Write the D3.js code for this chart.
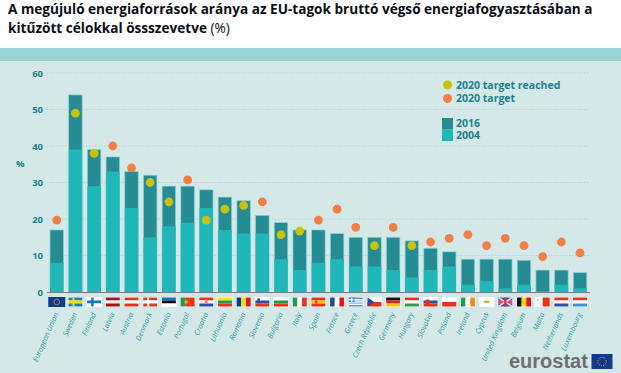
<!DOCTYPE html>
<html>
<head>
<meta charset="utf-8">
<script src="https://cdn.jsdelivr.net/npm/d3@7"></script>
<style>
  html, body { margin: 0; padding: 0; background: #fff; }
  svg { display: block; }
</style>
</head>
<body>
<div id="chart"></div>
<script>
const countries = ["European Union", "Sweden", "Finland", "Latvia", "Austria", "Denmark", "Estonia", "Portugal", "Croatia", "Lithuania", "Romania", "Slovenia", "Bulgaria", "Italy", "Spain", "France", "Greece", "Czech Republic", "Germany", "Hungary", "Slovakia", "Poland", "Ireland", "Cyprus", "United Kingdom", "Belgium", "Malta", "Netherlands", "Luxembourg"]
const values2016 = [17, 54, 39, 37, 33, 32, 29, 29, 28, 26, 25, 21, 19, 17, 17, 16, 15, 15, 15, 14, 12, 11, 9, 9, 9, 8.7, 6, 6, 5.3]
const values2004 = [8, 39, 29, 33, 23, 15, 18, 19, 23, 17, 16, 16, 9, 6, 8, 9, 7, 7, 6, 4, 6, 7, 2, 3, 1, 2, 0.1, 2, 1]
const targets = [19.7, 49, 38, 40, 34, 30, 24.7, 30.7, 19.7, 22.7, 23.7, 24.7, 15.7, 16.7, 19.7, 22.7, 17.7, 12.7, 17.7, 12.7, 13.7, 14.7, 15.7, 12.7, 14.7, 12.7, 9.7, 13.7, 10.7]
const reached = [0, 1, 1, 0, 0, 1, 1, 0, 1, 1, 1, 0, 1, 1, 0, 0, 0, 1, 0, 1, 0, 0, 0, 0, 0, 0, 0, 0, 0]
const yTicks = [0, 10, 20, 30, 40, 50, 60]

// flag stripes, "h" = top to bottom, "v" = left to right
const flagDirs = ["h", "h", "h", "h", "h", "h", "h", "v", "h", "h", "v", "h", "h", "v", "h", "v", "h", "h", "h", "h", "h", "h", "v", "h", "h", "v", "v", "h", "h"]
const flagColors = [
  ["#123a8c"], ["#1f7fc4", "#f5d90f", "#1f7fc4"], ["#fff", "#1477c8", "#fff"], ["#a5121c", "#f4eeee", "#a5121c"],
  ["#e8321c", "#fff", "#e8321c"], ["#e2352a", "#fff", "#e2352a"], ["#1a6fb0", "#111", "#fff"], ["#1f9a50", "#e8321c", "#e8321c"],
  ["#e8321c", "#fff", "#2a4ea0"], ["#f5e313", "#1f9a50", "#e8321c"], ["#123a8c", "#f5d90f", "#e8121c"], ["#fff", "#2a4ea0", "#e8321c"],
  ["#fff", "#1f9a50", "#e8321c"], ["#1f9a50", "#fff", "#e8321c"], ["#e8321c", "#f5c40f", "#e8321c"], ["#1f4ea0", "#fff", "#e8121c"],
  ["#5b93cf", "#cfe0ef", "#5b93cf"], ["#fff", "#e8321c"], ["#111", "#e2211c", "#f5c40f"], ["#e8321c", "#fff", "#2f9a50"],
  ["#fff", "#2a4ea0", "#e8321c"], ["#fff", "#e8321c"], ["#1f9a50", "#fff", "#f58a1f"], ["#fff"],
  ["#3a4f9c", "#d8415a", "#3a4f9c"], ["#111", "#f5d90f", "#e8121c"], ["#fff", "#e8321c"], ["#e8321c", "#fff", "#2a4ea0"],
  ["#e8321c", "#fff", "#3a93dc"]
]

const width = 621
const height = 373
const col2016 = "#258b94"
const col2004 = "#20b7b9"
const colReached = "#c8c30a"
const colTarget = "#f27f45"
const teal = "#1c7f8c"
const font = "'Open Sans', sans-serif"

const svg = d3.select("#chart").append("svg")
  .attr("width", width)
  .attr("height", height)

svg.append("rect").attr("y", 61).attr("width", width).attr("height", height - 61).attr("fill", "#d4e9e7")
svg.append("rect").attr("y", 48).attr("width", width).attr("height", 13).attr("fill", "#9bd2d2")

// title
const title = svg.append("text")
  .attr("font-family", "'Open Sans', sans-serif")
  .attr("font-size", 13.6)
  .attr("fill", "#0b0f14")
title.append("tspan").attr("x", 8).attr("y", 14).attr("font-weight", 700)
  .text("A megújuló energiaforrások aránya az EU-tagok bruttó végső energiafogyasztásában a")
title.append("tspan").attr("x", 8).attr("y", 33).attr("font-weight", 700).text("kitűzött célokkal össszevetve ")
title.append("tspan").text("(%)")

const x = d3.scaleBand()
  .domain(countries)
  .range([47.4, 589.4])
  .paddingInner(0.28)
  .paddingOuter(0.14)

const y = d3.scaleLinear().domain([0, 60]).range([292, 73])

// grid
svg.append("g").selectAll("line")
  .data(yTicks.slice(1))
  .join("line")
    .attr("x1", 47)
    .attr("x2", 590)
    .attr("y1", d => y(d))
    .attr("y2", d => y(d))
    .attr("stroke", "#b7cfe0")
    .attr("stroke-dasharray", "1.5 1.5")

const yAxis = d3.axisLeft(y).tickValues(yTicks).tickSize(0).tickPadding(0)
const yG = svg.append("g").attr("transform", "translate(43,0)").call(yAxis)
yG.select(".domain").remove()
yG.selectAll("text")
  .attr("font-family", font)
  .attr("font-size", 9.5)
  .attr("font-weight", 700)
  .attr("fill", teal)

svg.append("text").attr("x", 16).attr("y", 167)
  .attr("font-family", font).attr("font-size", 9.5).attr("font-weight", 700)
  .attr("fill", teal)
  .text("%")

// bars
const bars = svg.append("g")
bars.selectAll(".b16")
  .data(countries)
  .join("rect")
    .attr("class", "b16")
    .attr("x", d => x(d))
    .attr("width", x.bandwidth())
    .attr("y", (d, i) => y(values2016[i]))
    .attr("height", (d, i) => y(0) - y(values2016[i]))
    .attr("fill", col2016)
    .attr("stroke", "#8fd0cf")
    .attr("stroke-width", 0.7)
bars.selectAll(".b04")
  .data(countries)
  .join("rect")
    .attr("class", "b04")
    .attr("x", d => x(d))
    .attr("width", x.bandwidth())
    .attr("y", (d, i) => y(values2004[i]))
    .attr("height", (d, i) => y(0) - y(values2004[i]))
    .attr("fill", col2004)

svg.append("line")
  .attr("x1", 47).attr("x2", 590)
  .attr("y1", 292.5).attr("y2", 292.5)
  .attr("stroke", "#6f7f80")
  .attr("stroke-width", 1)

// target dots
svg.append("g").selectAll("circle")
  .data(countries)
  .join("circle")
    .attr("cx", d => x(d) + x.bandwidth() / 2)
    .attr("cy", (d, i) => y(targets[i]))
    .attr("r", 4.4)
    .attr("fill", (d, i) => reached[i] ? colReached : colTarget)

// flags
const flagW = 14
const flagH = 9
const flag = svg.append("g").selectAll("g")
  .data(countries)
  .join("g")
    .attr("transform", d => `translate(${x(d) + x.bandwidth() / 2 - flagW / 2},297.5)`)

flag.append("rect")
  .attr("x", -0.5).attr("y", -0.5)
  .attr("width", flagW + 1).attr("height", flagH + 1)
  .attr("fill", "#fff")

flag.each(function (d, i) {
  const g = d3.select(this)
  const cols = flagColors[i]
  const dir = flagDirs[i]
  const band = d3.scaleBand().domain(d3.range(cols.length)).range([0, dir === "h" ? flagH : flagW])
  g.selectAll(".st")
    .data(cols)
    .join("rect")
      .attr("class", "st")
      .attr("x", (c, j) => dir === "v" ? band(j) : 0)
      .attr("y", (c, j) => dir === "h" ? band(j) : 0)
      .attr("width", dir === "v" ? band.bandwidth() : flagW)
      .attr("height", dir === "h" ? band.bandwidth() : flagH)
      .attr("fill", c => c)
})

// few flag details on top of the stripes
function detail(name, fn) {
  fn(flag.filter(d => d === name))
}
detail("European Union", g => {
  g.append("rect").attr("x", -1.5).attr("y", -0.5).attr("width", flagW + 3).attr("height", flagH + 1).attr("fill", "#123a8c")
  g.append("circle").attr("cx", 7).attr("cy", 4.5).attr("r", 2.8)
    .attr("fill", "none").attr("stroke", "#b3a83a").attr("stroke-width", 0.8)
})
detail("Sweden", g => g.append("rect").attr("x", 4).attr("width", 2).attr("height", flagH).attr("fill", "#f5d90f"))
detail("Finland", g => g.append("rect").attr("x", 4).attr("width", 2.5).attr("height", flagH).attr("fill", "#1477c8"))
detail("Denmark", g => g.append("rect").attr("x", 4).attr("width", 2).attr("height", flagH).attr("fill", "#fff"))
detail("Portugal", g => g.append("circle").attr("cx", 5.6).attr("cy", 4.5).attr("r", 1.8).attr("fill", "#e0b020"))
detail("Croatia", g => g.append("rect").attr("x", 5.5).attr("y", 2).attr("width", 3).attr("height", 4.5).attr("fill", "#e8808a"))
detail("Slovenia", g => g.append("rect").attr("x", 2).attr("y", 0.8).attr("width", 2.5).attr("height", 3).attr("fill", "#2a4ea0"))
detail("Spain", g => g.append("rect").attr("x", 3.5).attr("y", 3).attr("width", 2.5).attr("height", 3).attr("fill", "#c0502a"))
detail("Greece", g => {
  g.append("rect").attr("y", 1.5).attr("width", flagW).attr("height", 1).attr("fill", "#fff")
  g.append("rect").attr("y", 6.5).attr("width", flagW).attr("height", 1).attr("fill", "#fff")
  g.append("rect").attr("width", 6).attr("height", 4.5).attr("fill", "#3f7fc4")
  g.append("rect").attr("x", 2.4).attr("width", 1.2).attr("height", 4.5).attr("fill", "#fff")
  g.append("rect").attr("y", 1.7).attr("width", 6).attr("height", 1.1).attr("fill", "#fff")
})
detail("Czech Republic", g => g.append("path").attr("d", d3.line()([[0, 0], [7, 4.5], [0, 9]])).attr("fill", "#2a4ea0"))
detail("Slovakia", g => g.append("rect").attr("x", 2.5).attr("y", 2).attr("width", 3.5).attr("height", 4.5).attr("fill", "#e8321c"))
detail("Cyprus", g => g.append("ellipse").attr("cx", 7).attr("cy", 4.2).attr("rx", 3).attr("ry", 1.3).attr("fill", "#e0a52a"))
detail("United Kingdom", g => {
  g.append("path").attr("d", "M0,0L14,9M14,0L0,9").attr("stroke", "#e8d8e0").attr("stroke-width", 1.6)
  g.append("rect").attr("x", 5.8).attr("width", 2.4).attr("height", flagH).attr("fill", "#d8314a")
})
detail("Malta", g => g.append("rect").attr("x", 1.5).attr("y", 1.5).attr("width", 1.3).attr("height", 1.5).attr("fill", "#b9a0a0"))

// country labels
svg.append("g").selectAll("text")
  .data(countries)
  .join("text")
    .attr("transform", d => `translate(${x(d) + x.bandwidth() / 2 + 2},314) rotate(-66)`)
    .attr("text-anchor", "end")
    .attr("font-family", font)
    .attr("font-size", 7.4)
    .attr("font-style", "italic")
    .attr("fill", "#2f9aa6")
    .text(d => d)

// legend
const legendDots = [
  { label: "2020 target reached", color: colReached, y: 85 },
  { label: "2020 target", color: colTarget, y: 98.5 }
]
const legendBars = [
  { label: "2016", color: col2016, y: 118 },
  { label: "2004", color: col2004, y: 129.5 }
]
const legend = svg.append("g")
  .attr("font-family", font)
  .attr("font-size", 10.5)
  .attr("font-weight", 700)
  .attr("fill", teal)

legend.selectAll("circle")
  .data(legendDots)
  .join("circle")
    .attr("cx", 447.5)
    .attr("cy", d => d.y)
    .attr("r", 4.5)
    .attr("fill", d => d.color)
legend.selectAll("rect")
  .data(legendBars)
  .join("rect")
    .attr("x", 442)
    .attr("y", d => d.y)
    .attr("width", 11)
    .attr("height", 11.5)
    .attr("fill", d => d.color)
legend.selectAll("text")
  .data(legendDots.concat(legendBars))
  .join("text")
    .attr("x", 456)
    .attr("y", d => d.label.length > 4 ? d.y + 3.6 : d.y + 9)
    .text(d => d.label)

// eurostat logo
svg.append("text")
  .attr("x", 509)
  .attr("y", 368)
  .attr("font-family", "'Liberation Sans', sans-serif")
  .attr("font-size", 20)
  .attr("font-weight", 700)
  .attr("fill", "#6f6f6f")
  .text("eurostat")
svg.append("rect").attr("x", 591.5).attr("y", 354).attr("width", 21).attr("height", 15).attr("fill", "#123a8c")
svg.append("circle").attr("cx", 602).attr("cy", 361.5).attr("r", 4.2)
  .attr("fill", "none").attr("stroke", "#e0c020").attr("stroke-width", 1).attr("stroke-dasharray", "1 1.2")
</script>
</body>
</html>
